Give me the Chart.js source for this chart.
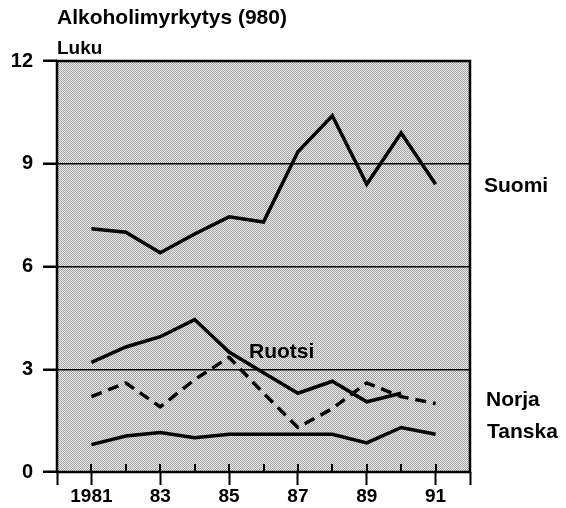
<!DOCTYPE html>
<html>
<head>
<meta charset="utf-8">
<script src="https://cdn.jsdelivr.net/npm/chart.js@4"></script>
<style>
  html, body { margin: 0; padding: 0; background: #fff; }
  #wrap { width: 566px; height: 508px; }
</style>
</head>
<body>
<div id="wrap"><canvas id="chart" width="566" height="508"></canvas></div>
<script>
// Vuodet ja sarjat (luettu kuvasta)
const years = [1981, 1982, 1983, 1984, 1985, 1986, 1987, 1988, 1989, 1990, 1991];
const suomi = [7.1, 7.0, 6.4, 6.95, 7.45, 7.3, 9.35, 10.4, 8.4, 9.9, 8.4];
const ruotsi = [3.2, 3.65, 3.95, 4.45, 3.5, 2.9, 2.3, 2.65, 2.05, 2.3, null];
const norja = [2.2, 2.6, 1.9, 2.7, 3.35, 2.3, 1.3, 1.85, 2.6, 2.2, 2.0];
const tanska = [0.8, 1.05, 1.15, 1.0, 1.1, 1.1, 1.1, 1.1, 0.85, 1.3, 1.1];
const yTicks = [0, 3, 6, 9, 12];

const FONT = '"Liberation Sans", Arial, sans-serif';

function points(values) {
  return years.map((y, i) => ({ x: y, y: values[i] }));
}

// Rasteritausta (harmaa pistekuvio)
function makePattern(ctx) {
  const c = document.createElement('canvas');
  c.width = 2; c.height = 2;
  const g = c.getContext('2d');
  g.fillStyle = '#ececec';
  g.fillRect(0, 0, 2, 2);
  g.fillStyle = '#a2a2a2';
  g.fillRect(0, 0, 1, 1);
  g.fillRect(1, 1, 1, 1);
  return ctx.createPattern(c, 'repeat');
}

const framePlugin = {
  id: 'frame',
  beforeDraw(chart) {
    const { ctx, chartArea: a } = chart;
    ctx.save();
    ctx.fillStyle = makePattern(ctx);
    ctx.fillRect(a.left, a.top, a.right - a.left, a.bottom - a.top);
    ctx.restore();
  },
  afterDatasetsDraw(chart) {
    const { ctx, chartArea: a } = chart;
    const xs = chart.scales.x;
    ctx.save();
    ctx.strokeStyle = '#000';
    // pienet tikit kuvaajan sisällä
    ctx.lineWidth = 2;
    for (let v = 1981; v <= 1991; v++) {
      const px = Math.round(xs.getPixelForValue(v));
      ctx.beginPath();
      ctx.moveTo(px, a.bottom);
      ctx.lineTo(px, a.bottom - 8);
      ctx.stroke();
    }
    // kehys
    ctx.lineWidth = 2.5;
    ctx.strokeRect(a.left, a.top, a.right - a.left, a.bottom - a.top);
    ctx.restore();
  },
  afterDraw(chart) {
    const { ctx } = chart;
    const ys = chart.scales.y;
    ctx.save();
    ctx.fillStyle = '#000';
    ctx.textBaseline = 'alphabetic';
    ctx.font = 'bold 21px ' + FONT;
    ctx.fillText('Alkoholimyrkytys (980)', 57, 24);
    ctx.font = 'bold 19px ' + FONT;
    ctx.fillText('Luku', 57, 54);
    ctx.textBaseline = 'middle';
    ctx.font = 'bold 21px ' + FONT;
    ctx.fillText('Suomi', 484, ys.getPixelForValue(8.35));
    ctx.fillText('Norja', 486, ys.getPixelForValue(2.1));
    ctx.fillText('Tanska', 487, ys.getPixelForValue(1.15));
    ctx.fillText('Ruotsi', 249, ys.getPixelForValue(3.5));
    ctx.restore();
  }
};

const lineStyle = {
  borderColor: '#000',
  borderWidth: 3.5,
  pointRadius: 0,
  tension: 0,
  fill: false,
  spanGaps: false,
  borderJoinStyle: 'miter'
};

new Chart(document.getElementById('chart'), {
  type: 'line',
  data: {
    datasets: [
      { label: 'Suomi', data: points(suomi), ...lineStyle },
      { label: 'Ruotsi', data: points(ruotsi), ...lineStyle },
      { label: 'Norja', data: points(norja), ...lineStyle, borderDash: [11, 7], borderJoinStyle: 'round' },
      { label: 'Tanska', data: points(tanska), ...lineStyle }
    ]
  },
  options: {
    responsive: false,
    animation: false,
    events: [],
    layout: { padding: { top: 61, right: 96, left: 0, bottom: 0 } },
    plugins: {
      legend: { display: false },
      title: { display: false },
      tooltip: { enabled: false }
    },
    scales: {
      x: {
        type: 'linear',
        min: 1980,
        max: 1992,
        afterFit: (s) => { s.height = 36; },
        afterBuildTicks: (s) => {
          s.ticks = [];
          for (let v = 1980; v <= 1992; v++) s.ticks.push({ value: v });
        },
        border: { display: false },
        grid: {
          drawOnChartArea: false,
          drawTicks: true,
          tickLength: 13,
          tickWidth: 2,
          tickColor: (c) => (c.tick && (c.tick.value % 2 === 1 || c.tick.value === 1980 || c.tick.value === 1992)) ? '#000' : 'rgba(0,0,0,0)'
        },
        ticks: {
          autoSkip: false,
          maxRotation: 0,
          padding: 0,
          color: '#000',
          font: { family: FONT, size: 19, weight: 'bold' },
          callback: (v) => v === 1981 ? '1981' : (v % 2 === 1 ? String(v).slice(2) : '')
        }
      },
      y: {
        min: 0,
        max: 12,
        afterFit: (s) => { s.width = 57; },
        afterBuildTicks: (s) => { s.ticks = yTicks.map(v => ({ value: v })); },
        border: { display: false },
        grid: {
          color: '#000',
          lineWidth: 1.5,
          drawTicks: true,
          tickLength: 14,
          tickWidth: 2.5
        },
        ticks: {
          padding: 10,
          color: '#000',
          font: { family: FONT, size: 20, weight: 'bold' }
        }
      }
    }
  },
  plugins: [framePlugin]
});
</script>
</body>
</html>
